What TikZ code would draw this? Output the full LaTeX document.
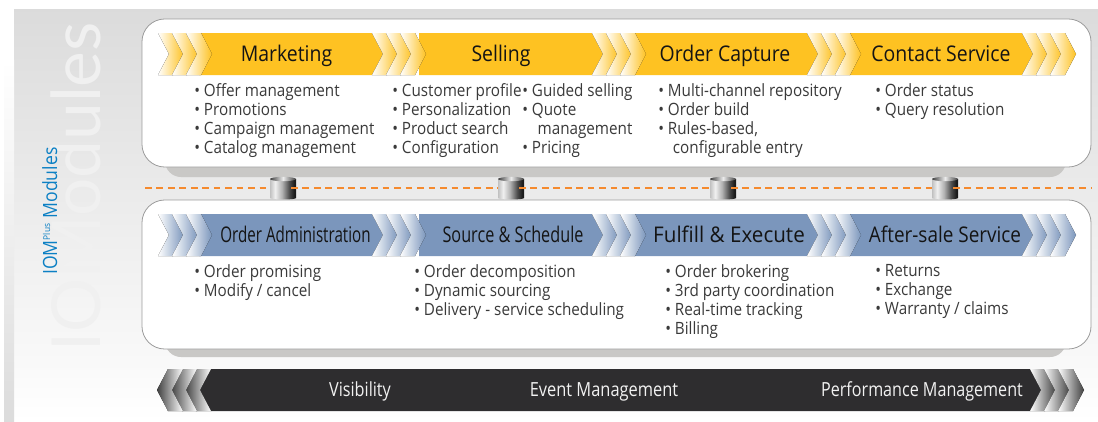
\documentclass[tikz,border=0pt]{standalone}
\usepackage{fontspec}
\setmainfont[FakeStretch=0.9]{Open Sans}
\newfontfamily\wmfont{Lato}
\usetikzlibrary{calc}
\definecolor{yel}{HTML}{FEC222}
\definecolor{blu}{HTML}{7B96BC}
\definecolor{drk}{HTML}{2E2D2F}
\definecolor{pnlshadow}{HTML}{C9C8C6}
\definecolor{pnledge}{HTML}{9C9C9C}
\definecolor{bodytxt}{HTML}{3A3A3A}
\definecolor{dashor}{HTML}{F58A2E}
\definecolor{iomblue}{HTML}{0C80C4}
\pgfdeclarehorizontalshading{cylbody}{100bp}{
 color(0bp)=(black!35); color(22bp)=(black!30); color(35bp)=(black!6); color(48bp)=(black!30);
 color(62bp)=(black!70); color(72bp)=(black!90); color(100bp)=(black!85)}
\newcommand{\chevR}[3]{% x0, ytop, colour
 \fill[left color=white,right color=#3] (#1,#2)--(#1+15,#2)--(#1+26,#2+21)--(#1+15,#2+42)--(#1,#2+42)--(#1+11,#2+21)--cycle;}
\newcommand{\chevL}[3]{% x0, ytop, colour
 \fill[right color=white,left color=#3] (#1,#2)--(#1-15,#2)--(#1-26,#2+21)--(#1-15,#2+42)--(#1,#2+42)--(#1-11,#2+21)--cycle;}
\newcommand{\mainbar}[4]{% xl, xr, ytop, colour
 \fill[#4] (#1,#3)--(#2,#3)--(#2+11,#3+21)--(#2,#3+42)--(#1,#3+42)--cycle;}
\newcommand{\cyl}[1]{%
 \shade[shading=cylbody] ($(#1)+(-13,-9)$) -- ($(#1)+(13,-9)$) -- ($(#1)+(13,10)$) arc[start angle=0,end angle=180,x radius=13,y radius=1.5] -- cycle;
 \shade[left color=black!75,right color=black!75,middle color=black!8] ($(#1)+(0,-9)$) ellipse[x radius=13,y radius=2.2];}
\tikzset{
 panel/.style={draw=pnledge,line width=.6pt,fill=white,rounded corners=17pt},
 pshadow/.style={fill=pnlshadow,rounded corners=12pt},
 hdr/.style={inner sep=0,text=black!92,font=\fontsize{16.2}{18}\selectfont,anchor=base},
 hdrd/.style={inner sep=0,text=black!5,font=\fontsize{14.6}{18}\selectfont,anchor=base},
 lst/.style={inner sep=0,anchor=north west,align=left,text=bodytxt,font=\fontsize{12.7}{14.25}\selectfont},
 seg/.style={dashor,line width=1pt,dash pattern=on 5pt off 3.6pt}
}
\begin{document}
\begin{tikzpicture}[x=0.75pt,y=-0.75pt]
\useasboundingbox (0,0) rectangle (1098,421);
\fill[white] (0,0) rectangle (1098,421);
% background
\shade[top color=black!14,bottom color=black!2] (14,9) rectangle (1098,372);
\shade[top color=black!2,bottom color=white] (14,372) rectangle (1098,421);
\shade[top color=white,bottom color=black!7] (4,60) rectangle (14,250);
\shade[top color=black!7,bottom color=black!14] (4,250) rectangle (14,421);
% watermark and side label
\node[inner sep=0,anchor=base west,rotate=90,text=black!6,font=\fontsize{50.7}{52}\wmfont] (wm) at (100,352) {IOModules};
\node[inner sep=0,anchor=base west,rotate=90,text=iomblue,font=\fontsize{14.7}{16}\selectfont] (side) at (57,275) {IOM\textsuperscript{\fontsize{7}{8}\selectfont Plus} Modules};
% panels
\fill[pshadow] (165,150) rectangle (1066,177);
\fill[pshadow] (165,330) rectangle (1066,357);
\path[panel] (142,19) rectangle (1091,167);
\path[panel] (142,200) rectangle (1091,349);
% bars
\foreach \yt/\c in {33/yel,214/blu}{
 \mainbar{199}{372}{\yt}{\c}\mainbar{419}{592}{\yt}{\c}\mainbar{634}{807}{\yt}{\c}\mainbar{849}{1022}{\yt}{\c}
 \foreach \x in {158,172,186,372,386,400,592,606,620,807,821,835,1022,1036,1050}{\chevR{\x}{\yt}{\c}}
}
\fill[drk] (211,369)--(1030,369)--(1042,390)--(1030,411)--(211,411)--(199,390)--cycle;
\foreach \x in {1030,1044,1058}{\chevR{\x}{369}{black!75}}
\foreach \x in {211,197,183}{\chevL{\x}{369}{black!75}}
% headers
\node[hdr] (h1) at (286.5,61) {Marketing};
\node[hdr] (h2) at (501,61) {Selling};
\node[hdr] (h3) at (725,61) {Order Capture};
\node[hdr] (h4) at (941,61) {Contact Service};
\node[hdr] (h5) at (295.5,242) {\scalebox{0.78}[1]{Order Administration}};
\node[hdr] (h6) at (513,242) {\scalebox{0.835}[1]{Source \& Schedule}};
\node[hdr] (h7) at (729,242) {\scalebox{1.06}[1]{Fulfill \& Execute}};
\node[hdr] (h8) at (945,242) {\scalebox{0.975}[1]{After-sale Service}};
\node[hdrd] (b1) at (360,396) {\scalebox{0.925}[1]{Visibility}};
\node[hdrd] (b2) at (604,396) {\scalebox{0.937}[1]{Event Management}};
\node[hdrd] (b3) at (922,396) {\scalebox{0.92}[1]{Performance Management}};
% lists
\node[lst] (l1) at (194,83) {• Offer management\\• Promotions\\• Campaign management\\• Catalog management};
\node[lst] (l2) at (392,83) {• Customer profile\\• Personalization\\• Product search\\• Configuration};
\node[lst] (l3) at (522,83) {• Guided selling\\• Quote\\\hspace*{11.5pt}management\\• Pricing};
\node[lst] (l4) at (658,83) {• Multi-channel repository\\• Order build\\• Rules-based,\\\hspace*{11pt}configurable entry};
\node[lst] (l5) at (875,83) {• Order status\\• Query resolution};
\node[lst] (l6) at (194,264) {• Order promising\\• Modify / cancel};
\node[lst] (l7) at (414,264) {• Order decomposition\\• Dynamic sourcing\\• Delivery - service scheduling};
\node[lst] (l8) at (665,264) {• Order brokering\\• 3rd party coordination\\• Real-time tracking\\• Billing};
\node[lst] (l9) at (875,264) {• Returns\\• Exchange\\• Warranty / claims};
% cylinders and bus
\coordinate (busL) at (145,188);
\coordinate (c1) at (283,188);
\coordinate (c2) at (511,188);
\coordinate (c3) at (723,188);
\coordinate (c4) at (945,188);
\coordinate (busR) at (1091,188);
\foreach \c in {c1,c2,c3,c4}{\cyl{\c}}
\draw[seg] (busL) -- ($(c1)+(-13,0)$);
\draw[seg] ($(c1)+(8,0)$) -- ($(c2)+(-13,0)$);
\draw[seg] ($(c2)+(8,0)$) -- ($(c3)+(-13,0)$);
\draw[seg] ($(c3)+(8,0)$) -- ($(c4)+(-13,0)$);
\draw[seg] ($(c4)+(8,0)$) -- (busR);
\end{tikzpicture}
\end{document}
